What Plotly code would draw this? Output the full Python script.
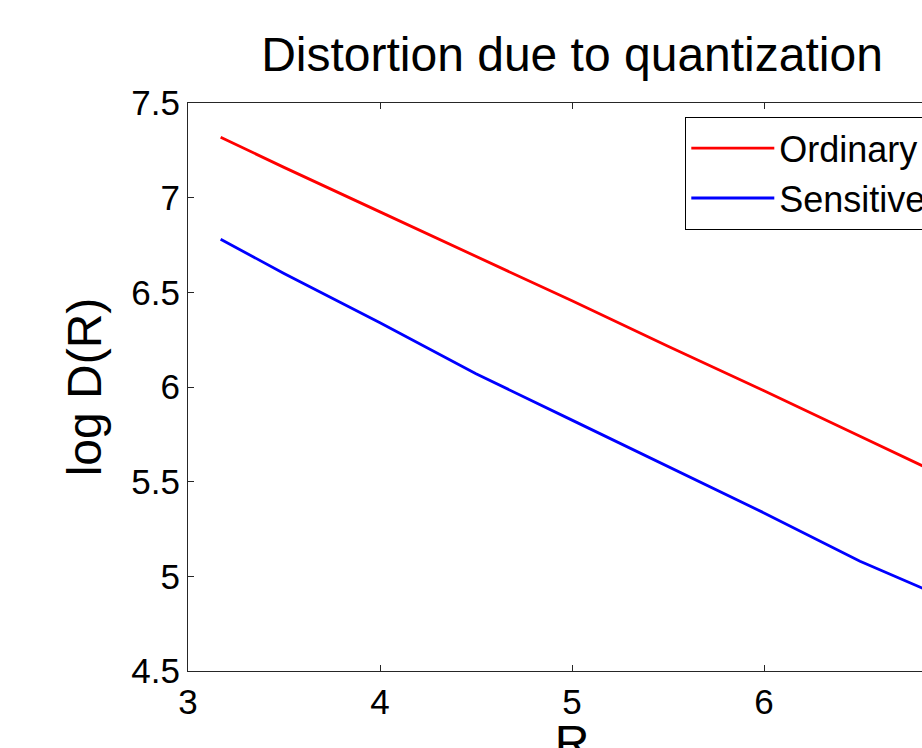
import plotly.graph_objects as go

# Data
rate = [3.17, 3.5, 4.0, 4.5, 5.0, 5.5, 6.0, 6.5, 6.82, 7.0]
ordinary = [7.319, 7.16, 6.925, 6.69, 6.455, 6.215, 5.98, 5.74, 5.587, 5.50]
sensitive = [6.78, 6.60, 6.34, 6.07, 5.825, 5.58, 5.335, 5.08, 4.94, 4.866]

x_ticks = [3, 4, 5, 6, 7]
y_ticks = [4.5, 5, 5.5, 6, 6.5, 7, 7.5]
y_tick_text = ["4.5", "5", "5.5", "6", "6.5", "7", "7.5"]

FONT = "Liberation Sans, Arial, sans-serif"
AXIS_COLOR = "#262626"

fig = go.Figure()
fig.add_trace(go.Scatter(x=rate, y=ordinary, mode="lines", name="Ordinary",
                         line=dict(color="#ff0000", width=2.8)))
fig.add_trace(go.Scatter(x=rate, y=sensitive, mode="lines", name="Sensitive",
                         line=dict(color="#0000ff", width=2.8)))

# Figure is larger than the 922x748 window; the page crops it like the reference
W, H = 980, 769
fig.update_layout(
    width=W, height=H,
    margin=dict(l=188, r=W - 956, t=103, b=H - 671, autoexpand=False),
    paper_bgcolor="white", plot_bgcolor="white",
    font=dict(family=FONT, color="black", size=35),
    title=dict(text="Distortion due to quantization", font=dict(size=48, family=FONT, color="black"),
               x=0.5, xref="paper", xanchor="center",
               y=1 - 71 / H, yref="container", yanchor="bottom"),
    showlegend=True,
    legend=dict(x=(685 - 188) / (956 - 188), y=(671 - 117) / (671 - 103),
                xanchor="left", yanchor="top",
                bgcolor="white", bordercolor="black", borderwidth=1.3,
                font=dict(size=36, family=FONT, color="black"),
                itemwidth=83, tracegroupgap=0),
    xaxis=dict(range=[3, 7], tickvals=x_ticks, ticktext=[str(v) for v in x_ticks],
               showgrid=False, zeroline=False, showline=True, linecolor=AXIS_COLOR, linewidth=1.3,
               mirror="ticks", ticks="inside", ticklen=6, tickcolor=AXIS_COLOR, tickwidth=1,
               tickfont=dict(size=35, family=FONT, color="black"),
               title=dict(text="R", font=dict(size=48, family=FONT, color="black")),
               automargin=False),
    yaxis=dict(range=[4.5, 7.5], tickvals=y_ticks, ticktext=y_tick_text,
               showgrid=False, zeroline=False, showline=True, linecolor=AXIS_COLOR, linewidth=1.3,
               mirror="ticks", ticks="inside", ticklen=6, tickcolor=AXIS_COLOR, tickwidth=1,
               tickfont=dict(size=35, family=FONT, color="black"),
               title=dict(text="log D(R)", font=dict(size=48, family=FONT, color="black"), standoff=14),
               automargin=False),
)

fig.write_html("out.html", config={"displayModeBar": False}, post_script=(
    "document.body.style.margin='0';"
    "document.body.style.overflow='hidden';"
    "document.documentElement.style.overflow='hidden';"
))
